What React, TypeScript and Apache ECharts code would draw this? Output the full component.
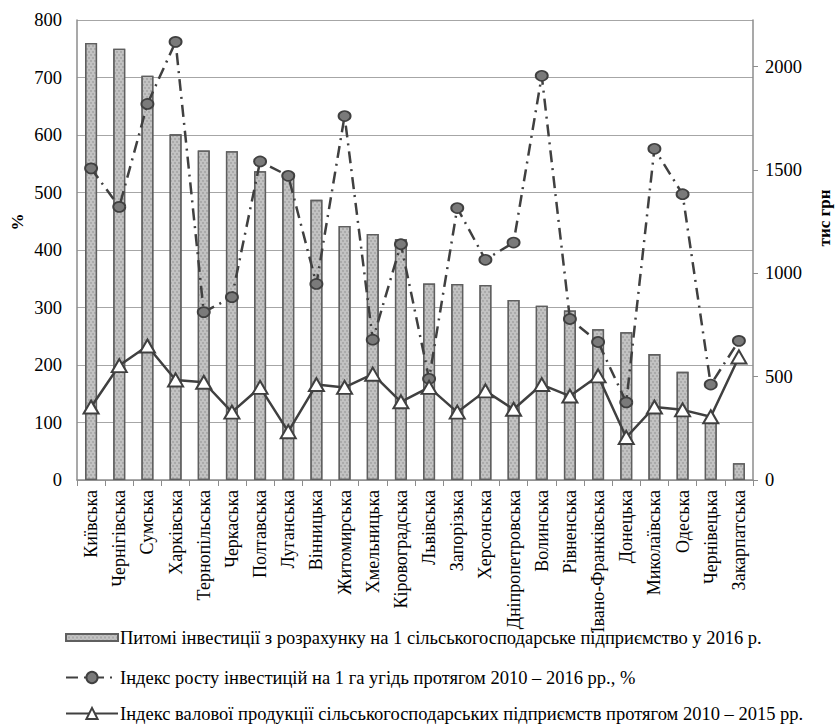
import React, { useEffect, useRef } from "react";
import * as echarts from "echarts";

const categories = [
  "Київська", "Чернігівська", "Сумська", "Харківська", "Тернопільська", "Черкаська",
  "Полтавська", "Луганська", "Вінницька", "Житомирська", "Хмельницька", "Кіровоградська",
  "Львівська", "Запорізька", "Херсонська", "Дніпропетровська", "Волинська", "Рівненська",
  "Івано-Франківська", "Донецька", "Миколаївська", "Одеська", "Чернівецька", "Закарпатська",
];

// тис грн (right axis)
const investPerEnterprise = [
  2114, 2086, 1955, 1672, 1594, 1590, 1494, 1485, 1355, 1229, 1190, 1165,
  951, 948, 943, 871, 843, 820, 729, 715, 609, 523, 292, 81,
];

// % (left axis)
const investGrowthIndex = [
  542, 475, 654, 762, 292, 318, 554, 529, 341, 633, 244, 410,
  176, 473, 383, 413, 703, 280, 240, 135, 576, 497, 166, 242,
];

// % (left axis)
const grossOutputIndex = [
  127, 199, 233, 174, 170, 118, 161, 84, 166, 161, 184, 136,
  161, 118, 155, 123, 166, 146, 181, 74, 127, 122, 110, 214,
];

const leftTicks = { min: 0, max: 800, interval: 100 };
const rightTicks = { min: 0, max: 2225, interval: 500 };

const seriesNames = [
  "Питомі інвестиції з розрахунку на 1 сільськогосподарське підприємство у 2016 р.",
  "Індекс росту інвестицій на 1 га угідь протягом 2010 – 2016 рр., %",
  "Індекс валової продукції сільськогосподарських підприємств протягом 2010 – 2015 рр.",
];

const FONT = "Liberation Serif, Tinos, DejaVu Serif, serif";

export default function App() {
  const ref = useRef<HTMLDivElement>(null);
  useEffect(() => {
    if (!ref.current) return;
    const chart = echarts.init(ref.current, null, { renderer: "svg" });
    const legendBase = {
      orient: "horizontal",
      left: 60,
      itemWidth: 52,
      itemHeight: 14,
      itemGap: 4,
      textStyle: {
        fontSize: 18.5,
        lineHeight: 18,
        fontFamily: FONT,
        color: "#000",
        padding: [0, 0, 0, -3],
      },
    };
    chart.setOption({
      animation: false,
      backgroundColor: "#ffffff",
      textStyle: { fontFamily: FONT },
      grid: { left: 77, right: 82, top: 20, bottom: 244, containLabel: false },
      legend: [
        { ...legendBase, top: 623, data: [{ name: seriesNames[0], icon: "path://M0,0h52v7h-52z" }] },
        { ...legendBase, top: 663, data: [{ name: seriesNames[1] }] },
        { ...legendBase, top: 699, data: [{ name: seriesNames[2] }] },
      ],
      xAxis: {
        type: "category",
        data: categories,
        boundaryGap: true,
        axisLine: { lineStyle: { color: "#8c8c8c", width: 1.5 } },
        axisTick: { show: true, alignWithLabel: false, length: 6, lineStyle: { color: "#8c8c8c" } },
        axisLabel: {
          interval: 0,
          rotate: 90,
          fontSize: 18,
          fontFamily: FONT,
          color: "#000",
          margin: 10,
        },
      },
      yAxis: [
        {
          type: "value",
          min: leftTicks.min,
          max: leftTicks.max,
          interval: leftTicks.interval,
          axisLine: { show: true, lineStyle: { color: "#8c8c8c", width: 1.5 } },
          axisTick: { show: false },
          splitLine: { lineStyle: { color: "#a6a6a6", width: 1.2 } },
          axisLabel: { fontSize: 18.5, fontFamily: FONT, color: "#000", margin: 15 },
        },
        {
          type: "value",
          min: rightTicks.min,
          max: rightTicks.max,
          interval: rightTicks.interval,
          axisLine: { show: true, lineStyle: { color: "#8c8c8c", width: 1.5 } },
          axisTick: { show: true, length: 5, lineStyle: { color: "#8c8c8c" } },
          splitLine: { show: false },
          axisLabel: {
            fontSize: 18.5,
            fontFamily: FONT,
            color: "#000",
            margin: 12,
            showMaxLabel: false,
            formatter: (v: number) => (v % 500 === 0 ? String(v) : ""),
          },
        },
      ],
      graphic: [
        {
          type: "text",
          x: 17,
          y: 222,
          rotation: Math.PI / 2,
          style: {
            text: "%",
            fontSize: 17,
            fontWeight: "bold",
            fontFamily: FONT,
            fill: "#000",
            align: "center",
            verticalAlign: "middle",
          },
        },
        {
          type: "text",
          x: 824,
          y: 218,
          rotation: Math.PI / 2,
          style: {
            text: "тис грн",
            fontSize: 17,
            fontWeight: "bold",
            fontFamily: FONT,
            fill: "#000",
            align: "center",
            verticalAlign: "middle",
          },
        },
      ],
      series: [
        {
          name: seriesNames[0],
          type: "bar",
          yAxisIndex: 1,
          data: investPerEnterprise,
          barWidth: 12,
          z: 1,
          itemStyle: {
            color: "#c2c2c2",
            borderColor: "#5f5f5f",
            borderWidth: 1.3,
            decal: {
              symbol: "circle",
              symbolSize: 0.8,
              dashArrayX: [[1.5, 1.5], [0, 1.5, 1.5, 0]],
              dashArrayY: [1.5, 0.5],
              color: "rgba(120,120,120,0.5)",
            },
          },
        },
        {
          name: seriesNames[1],
          type: "line",
          yAxisIndex: 0,
          data: investGrowthIndex,
          z: 3,
          symbol: "circle",
          symbolSize: [12, 10],
          lineStyle: { color: "#404040", width: 2.5, type: [12, 6, 2, 6] },
          itemStyle: { color: "#7a7a7a", borderColor: "#404040", borderWidth: 1.8 },
        },
        {
          name: seriesNames[2],
          type: "line",
          yAxisIndex: 0,
          data: grossOutputIndex,
          z: 4,
          symbol: "triangle",
          symbolSize: [15, 13],
          lineStyle: { color: "#404040", width: 2.5, type: "solid" },
          itemStyle: { color: "#ffffff", borderColor: "#404040", borderWidth: 2 },
        },
      ],
    });
    return () => chart.dispose();
  }, []);
  return (
    <div
      ref={ref}
      style={{ position: "absolute", left: 0, top: 0, width: 835, height: 724 }}
    />
  );
}
